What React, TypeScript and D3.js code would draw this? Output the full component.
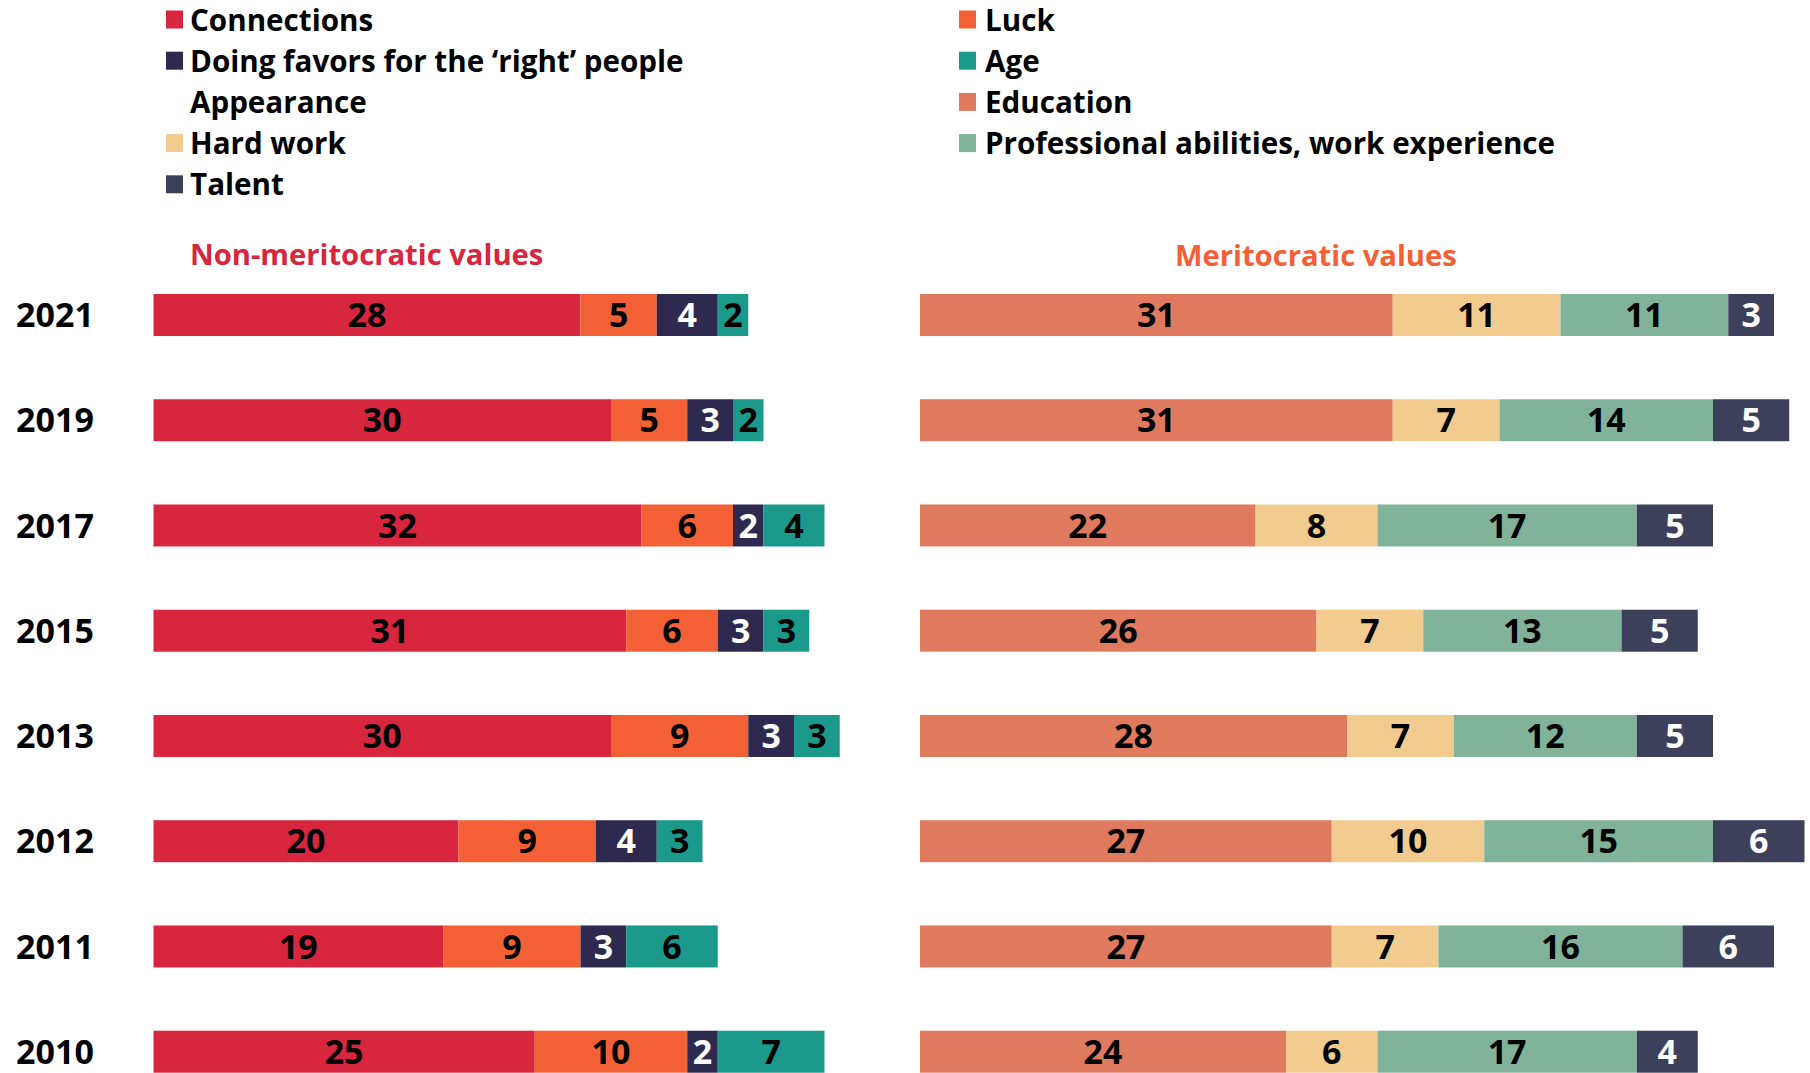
import React from "react";
import * as d3 from "d3";

const years = ["2021", "2019", "2017", "2015", "2013", "2012", "2011", "2010"];
const connections = [28, 30, 32, 31, 30, 20, 19, 25];
const luck = [5, 5, 6, 6, 9, 9, 9, 10];
const favors = [4, 3, 2, 3, 3, 4, 3, 2];
const age = [2, 2, 4, 3, 3, 3, 6, 7];
const education = [31, 31, 22, 26, 28, 27, 27, 24];
const hardWork = [11, 7, 8, 7, 7, 10, 7, 6];
const professional = [11, 14, 17, 13, 12, 15, 16, 17];
const talent = [3, 5, 5, 5, 5, 6, 6, 4];

const leftSeries = [
  { key: "Connections", values: connections, color: "#d7263d", text: "#000" },
  { key: "Luck", values: luck, color: "#f46036", text: "#000" },
  { key: "Doing favors for the \u2018right\u2019 people", values: favors, color: "#2e294e", text: "#fff" },
  { key: "Age", values: age, color: "#1b998b", text: "#000" },
];
const rightSeries = [
  { key: "Education", values: education, color: "#e07a5f", text: "#000" },
  { key: "Hard work", values: hardWork, color: "#f2cc8f", text: "#000" },
  { key: "Professional abilities, work experience", values: professional, color: "#81b29a", text: "#000" },
  { key: "Talent", values: talent, color: "#3d405b", text: "#fff" },
];

const legendLeft = [
  { label: "Connections", color: "#d7263d" },
  { label: "Doing favors for the \u2018right\u2019 people", color: "#2e294e" },
  { label: "Appearance", color: null },
  { label: "Hard work", color: "#f2cc8f" },
  { label: "Talent", color: "#3d405b" },
];
const legendRight = [
  { label: "Luck", color: "#f46036" },
  { label: "Age", color: "#1b998b" },
  { label: "Education", color: "#e07a5f" },
  { label: "Professional abilities, work experience", color: "#81b29a" },
];

const W = 1810;
const H = 1073;
const FONT = "'Open Sans', 'Noto Sans', sans-serif";

function stackRows(series: typeof leftSeries) {
  const rows = years.map((y, i) => {
    const r: any = { year: y };
    series.forEach((s) => (r[s.key] = s.values[i]));
    return r;
  });
  return d3.stack<any>().keys(series.map((s) => s.key))(rows);
}

export default function App() {
  const x = d3.scaleLinear().domain([0, 60]).range([0, 915]);
  const y = d3
    .scaleBand<string>()
    .domain(years)
    .range([294, 1072.7])
    .paddingInner(0.601)
    .paddingOuter(0);
  const bw = y.bandwidth();
  const leftX0 = 153.5;
  const rightX0 = 920;

  const leftStack = stackRows(leftSeries);
  const rightStack = stackRows(rightSeries);

  const renderStack = (stack: any[], series: typeof leftSeries, x0: number) =>
    stack.map((layer, li) => (
      <g key={series[li].key}>
        {layer.map((d: any, i: number) => {
          const xa = x0 + x(d[0]);
          const xb = x0 + x(d[1]);
          const yy = y(years[i]) as number;
          return (
            <g key={i}>
              <rect x={xa} y={yy} width={xb - xa} height={bw} fill={series[li].color} />
              <text
                x={(xa + xb) / 2}
                y={yy + bw / 2}
                dy="0.36em"
                textAnchor="middle"
                fontSize={34}
                fontWeight={700}
                fill={series[li].text}
              >
                {d[1] - d[0]}
              </text>
            </g>
          );
        })}
      </g>
    ));

  const legendBase = (i: number) => 30.5 + i * 41.2;

  return (
    <svg
      width={W}
      height={H}
      style={{ position: "absolute", left: 0, top: 0, background: "#fff" }}
      fontFamily={FONT}
    >
      <rect x={0} y={0} width={W} height={H} fill="#fff" />
      {legendLeft.map((l, i) => (
        <g key={l.label}>
          {l.color && (
            <rect x={166} y={legendBase(i) - 20} width={17} height={18} fill={l.color} />
          )}
          <text x={190} y={legendBase(i)} fontSize={29.6} fontWeight={700} fill="#000">
            {l.label}
          </text>
        </g>
      ))}
      {legendRight.map((l, i) => (
        <g key={l.label}>
          <rect x={959} y={legendBase(i) - 20} width={17} height={18} fill={l.color} />
          <text x={985} y={legendBase(i)} fontSize={29.6} fontWeight={700} fill="#000">
            {l.label}
          </text>
        </g>
      ))}
      <text x={190} y={265} fontSize={29.2} fontWeight={700} fill="#d7263d">
        Non-meritocratic values
      </text>
      <text x={1175} y={266} fontSize={29.2} fontWeight={700} fill="#f46036">
        Meritocratic values
      </text>
      {years.map((yr) => (
        <text
          key={yr}
          x={55}
          y={(y(yr) as number) + bw / 2}
          dy="0.36em"
          textAnchor="middle"
          fontSize={34}
          fontWeight={700}
          fill="#000"
        >
          {yr}
        </text>
      ))}
      {renderStack(leftStack, leftSeries, leftX0)}
      {renderStack(rightStack, rightSeries, rightX0)}
    </svg>
  );
}
